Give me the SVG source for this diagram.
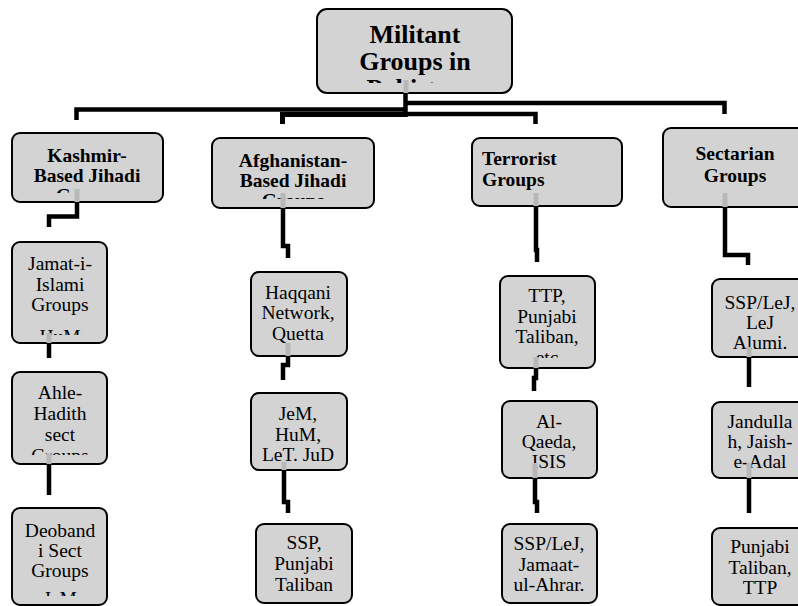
<svg xmlns="http://www.w3.org/2000/svg" width="798" height="606" viewBox="0 0 798 606">
<style>
.box{fill:#d3d3d3;stroke:#000;stroke-width:2}
text{font-family:"Liberation Serif","Times New Roman",serif;fill:#000;text-anchor:middle}
.title{font-size:26px;font-weight:bold}
.h{font-size:19.5px;font-weight:bold}
.t{font-size:19.5px}
.wire{fill:none;stroke:#000;stroke-width:4.5;stroke-linejoin:miter;stroke-linecap:butt}
.stub{fill:none;stroke:#b8b8b8;stroke-width:5}
</style>
<defs>
<clipPath id="cTop"><rect x="317" y="9" width="195" height="74"/></clipPath>
<clipPath id="cKas"><rect x="12" y="133" width="151" height="60"/></clipPath>
<clipPath id="cAfg"><rect x="212" y="138" width="162" height="61"/></clipPath>
<clipPath id="cJam"><rect x="12" y="242" width="95" height="93"/></clipPath>
<clipPath id="cAhl"><rect x="12" y="372" width="95" height="83"/></clipPath>
<clipPath id="cDeo"><rect x="12" y="508" width="95" height="88"/></clipPath>
<clipPath id="cTtp"><rect x="500" y="276" width="95" height="82"/></clipPath>
</defs>
<rect width="798" height="606" fill="#fff"/>

<g id="root">
<rect class="box" x="317" y="9" width="195" height="84" rx="10"/>
<g clip-path="url(#cTop)">
<text class="title" x="415" y="43">Militant</text>
<text class="title" x="415" y="70">Groups in</text>
<text class="title" x="415" y="97">Pakistan</text>
</g>
</g>

<g id="kashmir">
<rect class="box" x="12" y="133" width="151" height="69" rx="8"/>
<g clip-path="url(#cKas)">
<text class="h" x="87" y="162">Kashmir-</text>
<text class="h" x="87" y="182">Based Jihadi</text>
<text class="h" x="87" y="202">Groups</text>
</g>
</g>

<g id="afghan">
<rect class="box" x="212" y="138" width="162" height="70" rx="8"/>
<g clip-path="url(#cAfg)">
<text class="h" x="293" y="167">Afghanistan-</text>
<text class="h" x="293" y="187">Based Jihadi</text>
<text class="h" x="293" y="207">Groups</text>
</g>
</g>

<g id="terrorist">
<rect class="box" x="472" y="138" width="150" height="68" rx="8"/>
<text class="h" x="482" y="165" style="text-anchor:start">Terrorist</text>
<text class="h" x="482" y="186" style="text-anchor:start">Groups</text>
</g>

<g id="sectarian">
<rect class="box" x="663" y="128" width="145" height="79" rx="8"/>
<text class="h" x="735" y="160">Sectarian</text>
<text class="h" x="735" y="182">Groups</text>
</g>

<g id="jamat">
<rect class="box" x="12" y="242" width="95" height="101" rx="8"/>
<g clip-path="url(#cJam)">
<text class="t" x="60" y="270">Jamat-i-</text>
<text class="t" x="60" y="291">Islami</text>
<text class="t" x="60" y="311">Groups</text>
<text class="t" x="60" y="343">HuM</text>
</g>
</g>

<g id="ahle">
<rect class="box" x="12" y="372" width="95" height="92" rx="8"/>
<g clip-path="url(#cAhl)">
<text class="t" x="60" y="399">Ahle-</text>
<text class="t" x="60" y="420">Hadith</text>
<text class="t" x="60" y="441">sect</text>
<text class="t" x="60" y="462">Groups</text>
</g>
</g>

<g id="deobandi">
<rect class="box" x="12" y="508" width="95" height="97" rx="8"/>
<g clip-path="url(#cDeo)">
<text class="t" x="60" y="537">Deoband</text>
<text class="t" x="60" y="557">i Sect</text>
<text class="t" x="60" y="577">Groups</text>
<text class="t" x="60" y="605">JeM</text>
</g>
</g>

<g id="haqqani">
<rect class="box" x="251" y="272" width="96" height="84" rx="8"/>
<text class="t" x="298" y="299">Haqqani</text>
<text class="t" x="298" y="319">Network,</text>
<text class="t" x="298" y="340">Quetta</text>
</g>

<g id="jem">
<rect class="box" x="251" y="393" width="96" height="77" rx="8"/>
<text class="t" x="298" y="420">JeM,</text>
<text class="t" x="298" y="441">HuM,</text>
<text class="t" x="298" y="461">LeT. JuD</text>
</g>

<g id="ssp-punjabi">
<rect class="box" x="256" y="524" width="96" height="79" rx="8"/>
<text class="t" x="304" y="549">SSP,</text>
<text class="t" x="304" y="570">Punjabi</text>
<text class="t" x="304" y="591">Taliban</text>
</g>

<g id="ttp">
<rect class="box" x="500" y="276" width="95" height="92" rx="8"/>
<g clip-path="url(#cTtp)">
<text class="t" x="547" y="302">TTP,</text>
<text class="t" x="547" y="323">Punjabi</text>
<text class="t" x="547" y="343">Taliban,</text>
<text class="t" x="547" y="364">etc</text>
</g>
</g>

<g id="alqaeda">
<rect class="box" x="502" y="401" width="95" height="77" rx="8"/>
<text class="t" x="549" y="428">Al-</text>
<text class="t" x="549" y="448">Qaeda,</text>
<text class="t" x="549" y="468">ISIS</text>
</g>

<g id="ssp-lej-ahrar">
<rect class="box" x="502" y="524" width="95" height="79" rx="8"/>
<text class="t" x="549" y="550">SSP/LeJ,</text>
<text class="t" x="549" y="571">Jamaat-</text>
<text class="t" x="549" y="591">ul-Ahrar.</text>
</g>

<g id="ssp-lej-alumi">
<rect class="box" x="712" y="279" width="96" height="78" rx="8"/>
<text class="t" x="760" y="309">SSP/LeJ,</text>
<text class="t" x="760" y="329">LeJ</text>
<text class="t" x="760" y="349">Alumi.</text>
</g>

<g id="jandullah">
<rect class="box" x="712" y="402" width="96" height="76" rx="8"/>
<text class="t" x="760" y="428">Jandulla</text>
<text class="t" x="760" y="448">h, Jaish-</text>
<text class="t" x="760" y="468">e-Adal</text>
</g>

<g id="punjabi-ttp">
<rect class="box" x="712" y="528" width="96" height="77" rx="8"/>
<text class="t" x="760" y="553">Punjabi</text>
<text class="t" x="760" y="574">Taliban,</text>
<text class="t" x="760" y="594">TTP</text>
</g>

<g id="connectors">
<g class="stub">
<line x1="406" y1="80" x2="406" y2="93"/>
<line x1="77" y1="189" x2="77" y2="202"/>
<line x1="283" y1="193" x2="283" y2="208"/>
<line x1="536" y1="193" x2="536" y2="206"/>
<line x1="725" y1="193" x2="725" y2="207"/>
<line x1="49" y1="333" x2="49" y2="343"/>
<line x1="49" y1="453" x2="49" y2="464"/>
<line x1="288" y1="343" x2="288" y2="356"/>
<line x1="284" y1="462" x2="284" y2="470"/>
<line x1="536" y1="357" x2="536" y2="368"/>
<line x1="535" y1="463" x2="535" y2="478"/>
<line x1="749" y1="347" x2="749" y2="357"/>
<line x1="749" y1="463" x2="749" y2="478"/>
</g>
<g class="wire">
<path d="M405.5,93 V117"/>
<path d="M405,103 H724.5 V114"/>
<path d="M405,114 H535.5 V124"/>
<path d="M405,109.5 H76.5 V120"/>
<path d="M405,114.5 H282.5 V124" style="stroke-width:5"/>
<path d="M77,202 V216.5 H49 V227"/>
<path d="M49,343 V358"/>
<path d="M49,464 V495"/>
<path d="M283,208 V246 H288 V258"/>
<path d="M288,356 V365 H283 V380"/>
<path d="M284,470 V502 H288 V513"/>
<path d="M536,206 V250 H537 V262"/>
<path d="M536,368 V378 H534 V391"/>
<path d="M535,478 V502 H537 V513"/>
<path d="M725,207 V255 H748 V265"/>
<path d="M749,357 V387"/>
<path d="M749,478 V513"/>
</g>
</g>
</svg>
